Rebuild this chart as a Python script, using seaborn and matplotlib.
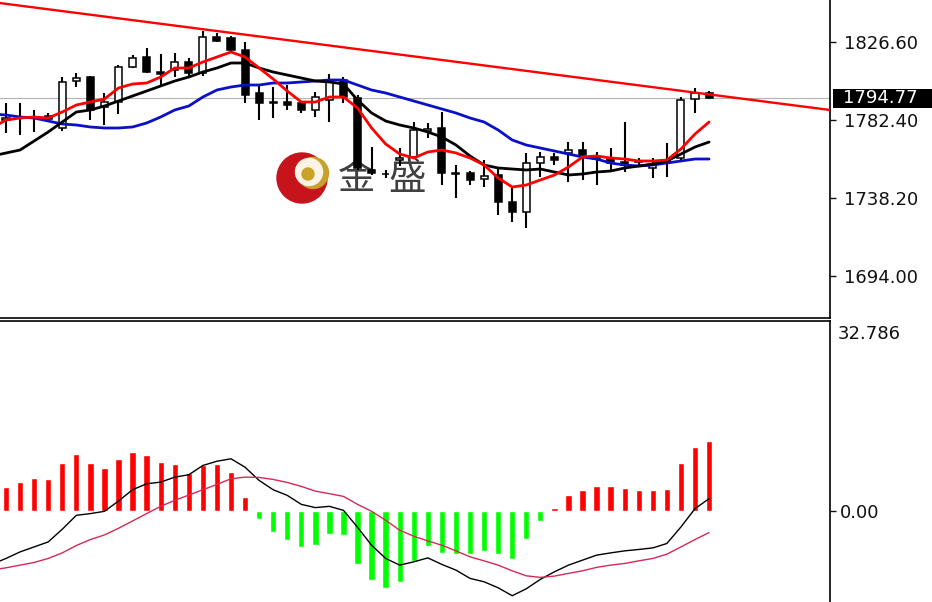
import matplotlib
matplotlib.use("Agg")
import matplotlib.pyplot as plt
import numpy as np
import pandas as pd
import seaborn as sns
from matplotlib.patches import Circle, Rectangle
from matplotlib.transforms import IdentityTransform

# --- candles (one per bar, oldest first) ---
opens = [1782.40, 1783.53, 1783.53, 1784.67, 1777.87, 1804.50, 1806.77, 1789.77, 1792.60, 1812.43,
         1818.10, 1809.60, 1810.73, 1815.27, 1809.03, 1829.43, 1828.87, 1822.07, 1797.70, 1792.60,
         1792.60, 1792.03, 1788.07, 1793.73, 1805.07, 1794.87, 1754.07, 1751.80, 1759.73, 1761.43,
         1776.17, 1777.87, 1752.37, 1752.37, 1748.97, 1751.23, 1735.93, 1730.27, 1758.03, 1761.43,
         1763.70, 1765.40, 1760.87, 1760.87, 1758.60, 1759.17, 1755.20, 1758.60, 1760.87, 1794.30,
         1797.70]
highs = [1792.03, 1792.03, 1788.07, 1786.37, 1806.77, 1809.03, 1807.33, 1797.70, 1813.57, 1819.23,
         1823.20, 1819.80, 1820.37, 1817.53, 1832.83, 1831.70, 1830.00, 1826.60, 1801.67, 1801.10,
         1802.23, 1793.17, 1798.27, 1808.47, 1806.77, 1796.57, 1767.10, 1754.07, 1766.53, 1781.27,
         1780.70, 1786.93, 1756.90, 1753.50, 1759.73, 1755.77, 1743.87, 1763.70, 1764.27, 1763.70,
         1769.93, 1769.93, 1764.27, 1766.53, 1781.27, 1760.87, 1760.87, 1769.37, 1795.43, 1800.53,
         1798.83]
lows = [1775.03, 1773.90, 1775.60, 1781.83, 1776.17, 1801.10, 1782.40, 1779.57, 1785.80, 1811.87,
        1809.03, 1801.10, 1806.77, 1806.20, 1807.33, 1826.60, 1821.50, 1792.03, 1782.40, 1783.53,
        1788.07, 1786.37, 1784.10, 1781.27, 1792.03, 1754.07, 1751.23, 1749.53, 1756.33, 1760.87,
        1772.20, 1745.57, 1738.20, 1745.57, 1744.43, 1728.57, 1724.60, 1721.20, 1750.10, 1756.90,
        1747.27, 1748.40, 1745.57, 1752.93, 1752.93, 1756.90, 1749.53, 1750.10, 1759.73, 1786.37,
        1794.30]
closes = [1783.53, 1783.82, 1784.10, 1782.97, 1803.93, 1806.20, 1788.07, 1792.60, 1812.43, 1817.53,
          1809.60, 1808.47, 1815.27, 1809.03, 1829.43, 1827.17, 1822.07, 1796.57, 1792.03, 1792.03,
          1790.90, 1788.07, 1795.43, 1803.93, 1795.43, 1755.20, 1752.37, 1751.52, 1760.87, 1776.73,
          1777.30, 1752.37, 1751.80, 1748.40, 1750.67, 1735.93, 1730.27, 1758.03, 1761.43, 1759.73,
          1765.40, 1762.57, 1760.30, 1758.03, 1756.90, 1758.60, 1756.90, 1759.73, 1793.73, 1797.70,
          1794.77]

# --- moving averages (start one bar before the first visible candle) ---
ma_fast = [1777.87, 1782.40, 1783.53, 1784.10, 1783.53, 1786.93, 1790.90, 1792.60, 1794.30, 1800.53,
           1802.80, 1803.37, 1806.77, 1811.87, 1811.87, 1815.27, 1818.10, 1820.93, 1818.10, 1811.87,
           1805.63, 1798.83, 1792.60, 1792.60, 1795.43, 1795.43, 1789.20, 1777.87, 1768.80, 1763.13,
           1760.87, 1764.27, 1765.40, 1763.70, 1760.87, 1756.90, 1749.53, 1744.43, 1745.57, 1748.40,
           1751.23, 1755.77, 1761.43, 1762.00, 1760.87, 1760.30, 1759.17, 1759.17, 1759.73, 1765.97,
           1774.47, 1781.27]
ma_mid = [1762.00, 1763.70, 1765.40, 1770.50, 1775.60, 1781.27, 1786.93, 1788.07, 1790.33, 1793.17,
          1796.00, 1798.83, 1801.67, 1804.50, 1806.77, 1809.60, 1811.87, 1814.70, 1814.70, 1811.87,
          1809.60, 1807.90, 1806.20, 1804.50, 1803.93, 1802.80, 1793.73, 1786.37, 1781.83, 1779.57,
          1777.87, 1775.60, 1772.77, 1768.23, 1762.00, 1756.90, 1755.20, 1754.63, 1754.07, 1754.63,
          1752.93, 1751.23, 1751.80, 1752.93, 1753.50, 1755.20, 1756.33, 1757.47, 1759.17, 1763.13,
          1767.10, 1769.93]
ma_slow = [1785.80, 1785.23, 1784.10, 1783.53, 1781.83, 1780.13, 1779.57, 1778.43, 1777.87, 1777.87,
           1778.43, 1780.70, 1784.10, 1788.07, 1790.33, 1795.43, 1799.40, 1801.10, 1802.23, 1802.23,
           1803.37, 1803.37, 1803.93, 1804.50, 1805.07, 1805.07, 1802.23, 1799.40, 1797.70, 1795.43,
           1793.17, 1790.90, 1788.63, 1786.37, 1783.53, 1781.27, 1776.73, 1771.07, 1768.23, 1766.53,
           1764.83, 1763.13, 1761.43, 1760.30, 1758.03, 1756.90, 1756.33, 1756.90, 1758.03, 1759.17,
           1760.30, 1760.30]

# --- MACD panel ---
macd_hist = [4.12, 4.98, 5.72, 5.54, 8.24, 9.90, 8.24, 7.43, 9.05, 10.30,
             9.73, 8.46, 8.07, 6.57, 7.90, 8.07, 6.81, 2.45, -1.32, -3.48,
             -4.93, -6.18, -5.72, -3.90, -4.12, -9.05, -11.90, -13.17, -12.19, -8.63,
             -6.01, -7.21, -7.33, -7.43, -6.75, -7.43, -8.24, -4.75, -1.60, 0.57,
             2.87, 3.66, 4.29, 4.29, 4.07, 3.66, 3.66, 3.90, 8.24, 11.11,
             12.14]
macd_main = [-9.10, -8.12, -6.99, -6.13, -5.27, -3.09, -0.69, -0.39, 0.00, 1.77, 3.72,
             4.75, 5.03, 5.89, 6.30, 7.90, 8.63, 9.05, 7.60, 5.32, 3.72,
             2.75, 1.20, 0.64, 0.86, 0.17, -2.75, -5.84, -8.12, -9.27, -8.70,
             -8.02, -9.15, -10.13, -11.55, -12.14, -13.17, -14.54, -13.34, -11.72, -10.42,
             -9.27, -8.41, -7.55, -7.16, -6.81, -6.57, -6.30, -5.54, -2.69, 0.46,
             2.18]
macd_signal = [-10.10, -9.73, -9.27, -8.81, -8.12, -7.16, -5.89, -4.86, -4.07, -2.92, -1.66,
               -0.39, 0.86, 1.89, 2.80, 3.72, 4.63, 5.61, 5.89, 5.84, 5.49,
               4.98, 4.29, 3.48, 3.04, 2.57, 1.20, 0.00, -1.54, -3.26, -4.29,
               -5.10, -5.84, -6.81, -7.84, -8.53, -9.27, -10.25, -11.11, -11.38, -11.16,
               -10.69, -10.25, -9.66, -9.27, -8.98, -8.53, -8.12, -7.38, -6.13, -4.86,
               -3.66]

# trend line drawn through two bar/price anchors
trend_a = (14, 1833.85)
trend_b = (50, 1796.90)

price_ticks = [1826.60, 1782.40, 1738.20, 1694.00]
price_range = (1670.20, 1850.40)
macd_top = 32.786
macd_range = (-15.62, macd_top)
bar_range = (-0.427, 58.6)

sns.set_style("white")
plt.rcParams["font.family"] = ["DejaVu Sans"]

bar_idx = np.arange(len(opens))
line_idx = np.arange(-1, len(opens))
o, h, l, c = (np.array(v) for v in (opens, highs, lows, closes))
last_price = closes[-1]

W, H = 932, 602
fig = plt.figure(figsize=(W / 100, H / 100), dpi=100)
ax = fig.add_axes([0, 1 - 318 / H, 830 / W, 318 / H])
ax2 = fig.add_axes([0, 0, 830 / W, 1 - 321 / H])

# ---- price panel ----
ax.axhline(last_price, color="#b4b4b4", lw=0.8, zorder=1)
ax.vlines(bar_idx, l, h, color="black", lw=1.5, zorder=3)
up = c >= o
ax.bar(bar_idx, np.abs(c - o), bottom=np.minimum(o, c), width=0.5,
       color=np.where(up, "white", "black"), edgecolor="black", linewidth=1.1, zorder=4)

sns.lineplot(x=line_idx, y=ma_slow, color="#0a10c8", lw=2.0, ax=ax, zorder=5)
sns.lineplot(x=line_idx, y=ma_mid, color="black", lw=2.0, ax=ax, zorder=5)
sns.lineplot(x=line_idx, y=ma_fast, color="#ff0000", lw=2.0, ax=ax, zorder=6)
ax.axline(trend_a, trend_b, color="#ff0000", lw=1.7, zorder=6)

# watermark logo
ident = IdentityTransform()
for (cx, cy, r, col) in [(302, 178, 25, "#c7141c"), (313, 173, 15.5, "#c9a02a"),
                         (309, 172, 13.5, "#fbf3e4"), (308, 174, 6, "#c9a227")]:
    ax.add_patch(Circle((cx, H - cy), r, transform=ident, color=col, zorder=1, clip_on=False))
for ch, cx in [("金", 357), ("盛", 407)]:
    ax.text(cx / W, 1 - 178 / H, ch, transform=fig.transFigure, ha="center", va="center",
            fontsize=27, color="#404040", weight="light",
            family=["Noto Sans CJK SC", "DejaVu Sans"], zorder=1)

ax.set_xlim(*bar_range)
ax.set_ylim(*price_range)
ax.set_xticks([])
ax.yaxis.tick_right()
ax.set_yticks(price_ticks)
ax.set_yticklabels([f"{v:.2f}" for v in price_ticks])
ax.tick_params(axis="y", right=True, length=4, width=1, pad=6, labelsize=13, colors="#111111")
ax.set_xlabel("")
ax.set_ylabel("")
for side in ["top", "left"]:
    ax.spines[side].set_visible(False)
for side in ["right", "bottom"]:
    ax.spines[side].set_color("black")
    ax.spines[side].set_linewidth(1.2)

# current price marker box running to the right edge
yax = ax.get_yaxis_transform()
ax.add_patch(Rectangle((1.0036, last_price - 5.4), 0.2, 10.8, transform=yax,
                       fc="black", ec="none", clip_on=False, zorder=9))
ax.text(1.016, last_price, f"{last_price:.2f}", transform=yax,
        ha="left", va="center", fontsize=13, color="white", clip_on=False, zorder=10)

# ---- MACD panel ----
macd_df = pd.DataFrame({"bar": bar_idx, "hist": macd_hist})
macd_df["sign"] = np.where(macd_df["hist"] >= 0, "up", "down")
sns.barplot(data=macd_df, x="bar", y="hist", hue="sign", native_scale=True,
            palette={"up": "#ff0000", "down": "#00ff00"}, width=0.45, dodge=False,
            saturation=1, legend=False, ax=ax2, zorder=2)
sns.lineplot(x=line_idx, y=macd_main, color="black", lw=1.0, ax=ax2, zorder=4)
sns.lineplot(x=line_idx, y=macd_signal, color="#d42a55", lw=1.0, ax=ax2, zorder=4)

ax2.set_xlim(*bar_range)
ax2.set_ylim(*macd_range)
ax2.set_xticks([])
ax2.yaxis.tick_right()
ax2.set_yticks([0])
ax2.set_yticklabels(["0.00"])
ax2.tick_params(axis="y", right=True, length=4, width=1, pad=3, labelsize=13, colors="#111111")
ax2.set_xlabel("")
ax2.set_ylabel("")
for side in ["left", "bottom"]:
    ax2.spines[side].set_visible(False)
for side in ["top", "right"]:
    ax2.spines[side].set_color("black")
    ax2.spines[side].set_linewidth(1.2)
ax2.text(1.0095, 0.985, f"{macd_top:.3f}", transform=ax2.transAxes, ha="left", va="top",
         fontsize=13, color="#111111", clip_on=False)

fig.savefig("out.png", dpi=100)
